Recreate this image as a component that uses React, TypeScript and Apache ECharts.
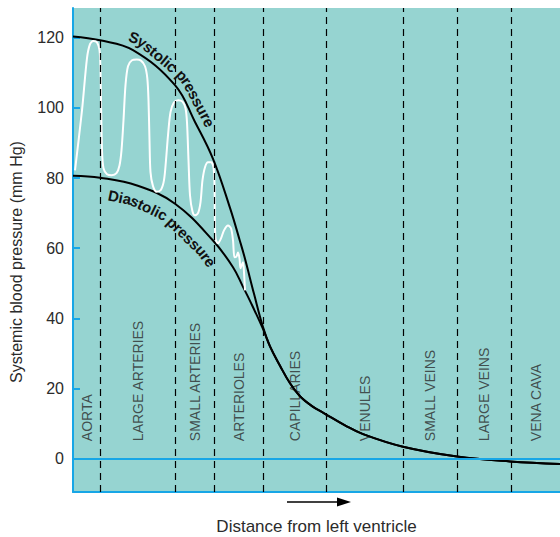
import React, { useEffect, useRef } from "react";
import * as echarts from "echarts";

// ---- data ----
const segmentNames = [
  "AORTA",
  "LARGE ARTERIES",
  "SMALL ARTERIES",
  "ARTERIOLES",
  "CAPILLARIES",
  "VENULES",
  "SMALL VEINS",
  "LARGE VEINS",
  "VENA CAVA",
];
// boundaries along the vascular tree (distance units)
const segmentBounds = [0, 27, 102, 141, 190, 253, 330, 384, 438, 487];
const yLabelValues = [0, 20, 40, 60, 80, 100, 120];
const yTickValues = [20, 40, 60, 80, 100, 120];

const systolic: number[][] = [
  [0, 120.4], [27, 119.3], [60, 116.5], [102, 106.5], [122, 96], [140, 85.5],
  [157, 71.5], [167, 62], [172, 57], [181, 47], [190, 37.5], [197, 32],
];
const diastolic: number[][] = [
  [0, 80.7], [27, 80.1], [64, 77.9], [102, 72.7], [140, 62.2], [160, 54.6],
  [170, 49], [177, 45], [190, 37], [197, 32],
];
const venous: number[][] = [
  [207, 26.5], [217, 21.5], [227, 17.8], [239, 15], [252, 12.8], [272, 9.5],
  [290, 7.0], [330, 3.4], [384, 0.6], [437, -0.8], [487, -1.5],
];
const pulse: number[][] = [
  [2, 82.2], [9, 99.3], [14, 114.2], [17, 118.2], [20.3, 119.1], [24, 118.7],
  [26.5, 116.5], [27.5, 110.8], [28.2, 99.3], [29, 87.9], [30.5, 82.8], [34, 81.1],
  [38.7, 80.8], [43.5, 81.4], [46.5, 83.6], [48.5, 87.9], [50.5, 96.5], [52.5, 106.5],
  [55, 111.9], [59, 113.6], [63.7, 113.8], [68, 113.5], [72, 111.9], [74.3, 108.5],
  [75.5, 102.2], [76.5, 90.8], [77.5, 81.7], [80, 77.7], [83.7, 76.1], [88, 76.7],
  [91, 79.4], [93, 85.1], [95, 92.2], [97.5, 98.8], [101, 101.6], [105.3, 102.2],
  [109.5, 101.8], [112.5, 99.9], [114, 95.9], [115.5, 85.1], [117, 75.1], [119.5, 70.5],
  [122, 69.4], [125, 70.0], [127.5, 73.1], [129.5, 79.4], [132, 83.1], [135, 84.5],
  [138, 84.5], [140.5, 83.1], [141.5, 78.0], [141.8, 69.4], [142.5, 62.8], [145, 61.4],
  [148, 62.8], [151, 65.1], [155, 66.5], [158, 65.7], [160, 62.3], [161.5, 57.4],
  [163.5, 57.7], [165, 58.8], [166.5, 57.1], [167.5, 54.3], [169, 55.4], [170, 56.0],
  [171, 53.1], [172, 48.0],
];

const FONT = '"Liberation Sans", Arial, sans-serif';
const BLUE = "#17a6e6";
const TEAL = "#96d4d1";
const TEXT = "#2b2b2b";

function textOnCurve(
  chart: any,
  pts: number[][],
  text: string,
  startPx: number,
  offset: number,
  side: number,
  fontSize: number,
  fontWeight: string
) {
  const px = pts.map((p) => chart.convertToPixel({ xAxisIndex: 0, yAxisIndex: 0 }, p) as number[]);
  const dense: number[][] = [];
  for (let i = 0; i < px.length - 1; i++) {
    const a = px[i], b = px[i + 1];
    const n = Math.max(1, Math.ceil(Math.hypot(b[0] - a[0], b[1] - a[1]) / 1.5));
    for (let k = 0; k < n; k++) {
      const t = k / n;
      dense.push([a[0] + (b[0] - a[0]) * t, a[1] + (b[1] - a[1]) * t]);
    }
  }
  dense.push(px[px.length - 1]);
  const off = dense.map((p, i) => {
    const a = dense[Math.max(0, i - 4)], b = dense[Math.min(dense.length - 1, i + 4)];
    const dx = b[0] - a[0], dy = b[1] - a[1];
    const L = Math.hypot(dx, dy) || 1;
    return [p[0] + (side * dy / L) * offset, p[1] + (-side * dx / L) * offset];
  });
  const cum = [0];
  for (let i = 1; i < off.length; i++) cum.push(cum[i - 1] + Math.hypot(off[i][0] - off[i - 1][0], off[i][1] - off[i - 1][1]));
  let idx = off.findIndex((p) => p[0] >= startPx);
  if (idx < 0) idx = 0;
  const at = (s: number) => {
    let j = 1;
    while (j < cum.length - 1 && cum[j] < s) j++;
    const a = off[j - 1], b = off[j];
    const seg = cum[j] - cum[j - 1] || 1;
    const t = Math.min(1, Math.max(0, (s - cum[j - 1]) / seg));
    const a2 = off[Math.max(0, j - 4)], b2 = off[Math.min(off.length - 1, j + 3)];
    return { x: a[0] + (b[0] - a[0]) * t, y: a[1] + (b[1] - a[1]) * t, ang: Math.atan2(b2[1] - a2[1], b2[0] - a2[0]) };
  };
  const ctx = document.createElement("canvas").getContext("2d") as CanvasRenderingContext2D;
  ctx.font = `${fontWeight} ${fontSize}px ${FONT}`;
  const els: any[] = [];
  let s = cum[idx];
  for (const ch of text) {
    const w = ctx.measureText(ch).width;
    const p = at(s + w / 2);
    if (ch !== " ") {
      els.push({
        type: "text",
        x: p.x,
        y: p.y,
        rotation: -p.ang,
        silent: true,
        z: 10,
        style: { text: ch, fontSize, fontWeight, fontFamily: FONT, fill: "#111", align: "center", verticalAlign: "middle" },
      });
    }
    s += w;
  }
  return els;
}

export default function App() {
  const ref = useRef<HTMLDivElement>(null);
  useEffect(() => {
    if (!ref.current) return;
    const chart = echarts.init(ref.current, undefined, { renderer: "svg" });
    const mids = segmentNames.map((n, i) => ({
      name: n,
      value: [(segmentBounds[i] + segmentBounds[i + 1]) / 2, 5],
    }));
    chart.setOption({
      animation: false,
      backgroundColor: "#fff",
      grid: {
        left: 73, right: 0, top: 8, bottom: 45,
        show: true, backgroundColor: TEAL, borderWidth: 0,
        outerBoundsMode: "none",
      },
      xAxis: {
        type: "value",
        min: segmentBounds[0],
        max: segmentBounds[segmentBounds.length - 1],
        axisLine: { show: true, onZero: false, lineStyle: { color: BLUE, width: 2 } },
        axisTick: { show: false },
        axisLabel: { show: false },
        splitLine: { show: false },
        name: "Distance from left ventricle",
        nameLocation: "middle",
        nameGap: 26,
        nameTextStyle: { fontFamily: FONT, fontSize: 17, color: TEXT },
      },
      yAxis: {
        type: "value",
        min: -9.5,
        max: 128.5,
        axisLine: { show: true, onZero: false, lineStyle: { color: BLUE, width: 2 } },
        axisTick: {
          show: true, inside: true, length: 7,
          lineStyle: { color: BLUE, width: 2 },
          customValues: yTickValues,
        },
        axisLabel: {
          fontFamily: FONT, fontSize: 16, color: TEXT, margin: 9,
          customValues: yLabelValues,
        },
        splitLine: { show: false },
      },
      series: [
        {
          type: "line",
          name: "Systolic pressure",
          data: systolic.concat(venous),
          smooth: 0.4,
          symbol: "none",
          lineStyle: { color: "#000", width: 2 },
          markLine: {
            silent: true,
            symbol: ["none", "none"],
            label: { show: false },
            data: [
              ...segmentBounds.slice(1, -1).map((x) => ({
                xAxis: x,
                lineStyle: { color: "#000", width: 1.2, type: [7, 5] },
              })),
              { yAxis: 0, lineStyle: { color: BLUE, width: 2, type: "solid" } },
            ],
          },
        },
        {
          type: "line",
          name: "Diastolic pressure",
          data: diastolic.concat(venous),
          smooth: 0.4,
          symbol: "none",
          lineStyle: { color: "#000", width: 2 },
        },
        {
          type: "line",
          name: "Pulse",
          data: pulse,
          smooth: 0.3,
          symbol: "none",
          lineStyle: { color: "#fff", width: 2 },
        },
        {
          type: "scatter",
          data: mids,
          symbolSize: 0,
          silent: true,
          label: {
            show: true,
            formatter: "{b}",
            position: [0, 0],
            rotate: 90,
            align: "left",
            verticalAlign: "middle",
            fontFamily: FONT,
            fontSize: 14,
            color: TEXT,
          },
        },
      ],
    });
    const sysText = textOnCurve(chart, systolic.concat(venous), "Systolic pressure", 128, 12.5, 1, 15, "bold");
    const diaText = textOnCurve(chart, diastolic.concat(venous), "Diastolic pressure", 108, 15, -1, 15, "bold");
    chart.setOption({
      graphic: [
        {
          type: "text",
          x: 16, y: 262, rotation: Math.PI / 2, silent: true,
          style: {
            text: "Systemic blood pressure (mm Hg)",
            fontFamily: FONT, fontSize: 16, fill: TEXT,
            align: "center", verticalAlign: "middle",
          },
        },
        { type: "line", silent: true, shape: { x1: 287, y1: 502, x2: 340, y2: 502 }, style: { stroke: "#000", lineWidth: 1.5 } },
        { type: "polygon", silent: true, shape: { points: [[351, 502], [337, 497.5], [337, 506.5]] }, style: { fill: "#000" } },
        ...sysText,
        ...diaText,
      ],
    });
    return () => chart.dispose();
  }, []);
  return <div ref={ref} style={{ position: "fixed", left: 0, top: 0, width: 560, height: 537 }} />;
}
